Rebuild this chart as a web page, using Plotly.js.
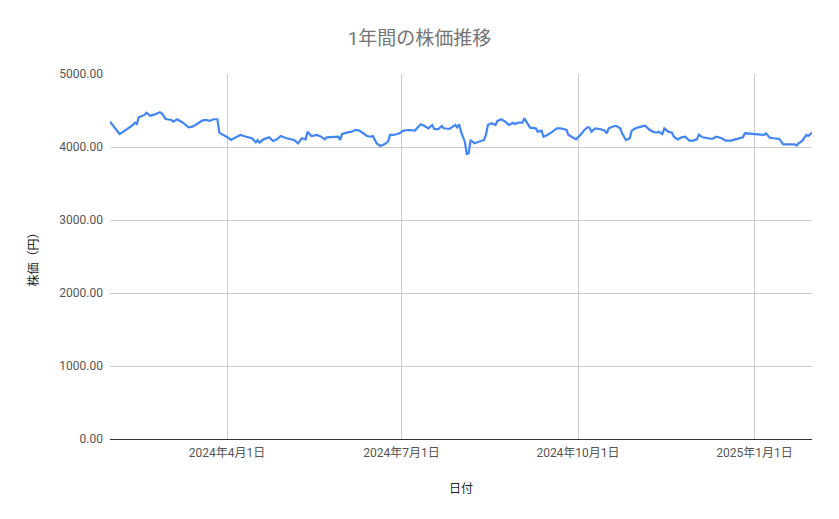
<!DOCTYPE html>
<html lang="ja">
<head>
  <meta charset="UTF-8">
  <title>1年間の株価推移</title>
  <script src="https://cdn.plot.ly/plotly-3.0.1.min.js" charset="utf-8"></script>
  <style>
    body { margin: 0; background: #fff; }
    #chart { width: 839px; height: 519px; }
  </style>
</head>
<body>
  <div id="chart"></div>
  <script>
    // values
    const dates = [
      "2024-01-31","2024-02-02","2024-02-05","2024-02-07","2024-02-12","2024-02-13","2024-02-14","2024-02-15",
      "2024-02-18","2024-02-19","2024-02-21","2024-02-23","2024-02-26","2024-02-27","2024-02-29","2024-03-03",
      "2024-03-04","2024-03-06","2024-03-09","2024-03-12","2024-03-14","2024-03-17","2024-03-19","2024-03-21",
      "2024-03-23","2024-03-25","2024-03-27","2024-03-28","2024-03-31","2024-04-02","2024-04-03","2024-04-08",
      "2024-04-11","2024-04-14","2024-04-16","2024-04-17","2024-04-18","2024-04-20","2024-04-23","2024-04-25",
      "2024-04-27","2024-04-29","2024-05-02","2024-05-06","2024-05-08","2024-05-10","2024-05-12","2024-05-13",
      "2024-05-15","2024-05-18","2024-05-20","2024-05-22","2024-05-23","2024-05-27","2024-05-29","2024-05-30",
      "2024-05-31","2024-06-03","2024-06-05","2024-06-07","2024-06-09","2024-06-11","2024-06-13","2024-06-15",
      "2024-06-16","2024-06-18","2024-06-20","2024-06-22","2024-06-24","2024-06-25","2024-06-27","2024-06-30",
      "2024-07-02","2024-07-05","2024-07-08","2024-07-09","2024-07-11","2024-07-13","2024-07-15","2024-07-17",
      "2024-07-18","2024-07-20","2024-07-22","2024-07-23","2024-07-26","2024-07-29","2024-07-30","2024-07-31",
      "2024-08-01","2024-08-03","2024-08-04","2024-08-05","2024-08-06","2024-08-08","2024-08-11","2024-08-13",
      "2024-08-14","2024-08-15","2024-08-17","2024-08-19","2024-08-20","2024-08-22","2024-08-24","2024-08-26",
      "2024-08-28","2024-08-29","2024-08-31","2024-09-02","2024-09-03","2024-09-05","2024-09-06","2024-09-09",
      "2024-09-10","2024-09-12","2024-09-13","2024-09-15","2024-09-17","2024-09-20","2024-09-22","2024-09-25",
      "2024-09-26","2024-09-29","2024-09-30","2024-10-03","2024-10-04","2024-10-06","2024-10-07","2024-10-08",
      "2024-10-10","2024-10-13","2024-10-15","2024-10-16","2024-10-17","2024-10-20","2024-10-21","2024-10-23",
      "2024-10-24","2024-10-26","2024-10-28","2024-10-29","2024-10-31","2024-11-03","2024-11-05","2024-11-07",
      "2024-11-09","2024-11-11","2024-11-12","2024-11-14","2024-11-15","2024-11-17","2024-11-19","2024-11-20",
      "2024-11-22","2024-11-24","2024-11-26","2024-11-28","2024-11-30","2024-12-02","2024-12-03","2024-12-05",
      "2024-12-08","2024-12-10","2024-12-12","2024-12-15","2024-12-17","2024-12-20","2024-12-22","2024-12-25",
      "2024-12-26","2024-12-27","2024-12-30","2025-01-03","2025-01-06","2025-01-07","2025-01-09","2025-01-11",
      "2025-01-14","2025-01-16","2025-01-19","2025-01-22","2025-01-23","2025-01-24","2025-01-26","2025-01-28",
      "2025-01-29","2025-01-31"
    ];
    const prices = [
      4347,4280,4178,4210,4302,4333,4315,4407,
      4439,4470,4429,4443,4476,4462,4384,4370,
      4347,4380,4333,4270,4279,4325,4361,4370,
      4357,4380,4380,4196,4155,4120,4096,4165,
      4141,4120,4064,4096,4060,4105,4133,4082,
      4105,4151,4120,4096,4050,4120,4105,4210,
      4151,4165,4141,4105,4133,4133,4141,4096,
      4178,4201,4210,4233,4224,4188,4151,4141,
      4151,4050,4014,4037,4073,4165,4165,4188,
      4224,4233,4224,4256,4311,4288,4256,4302,
      4247,4243,4288,4256,4247,4302,4270,4311,
      4210,4073,3905,3914,4096,4050,4073,4096,
      4165,4302,4325,4302,4357,4380,4347,4302,
      4333,4315,4333,4333,4393,4302,4265,4256,
      4210,4224,4141,4165,4196,4256,4256,4233,
      4165,4120,4105,4188,4224,4270,4265,4210,
      4256,4243,4224,4188,4256,4288,4288,4256,
      4188,4096,4120,4224,4256,4279,4293,4243,
      4210,4196,4210,4178,4256,4210,4196,4141,
      4105,4133,4141,4087,4087,4105,4170,4133,
      4120,4110,4141,4120,4087,4087,4105,4120,
      4133,4188,4178,4174,4165,4188,4128,4120,
      4110,4037,4037,4037,4019,4050,4087,4165,
      4151,4196
    ];
    const xTickVals = ["2024-04-01", "2024-07-01", "2024-10-01", "2025-01-01"];
    const xTickText = ["2024年4月1日", "2024年7月1日", "2024年10月1日", "2025年1月1日"];
    const yTickVals = [0, 1000, 2000, 3000, 4000, 5000];

    const fontFamily = "Roboto, 'Noto Sans CJK JP', sans-serif";

    const trace = {
      x: dates,
      y: prices,
      type: 'scatter',
      mode: 'lines',
      line: { color: '#4285f4', width: 2.2 },
      hoverinfo: 'x+y'
    };

    const layout = {
      width: 839,
      height: 519,
      margin: { l: 110, r: 27, t: 74, b: 80 },
      paper_bgcolor: '#fff',
      plot_bgcolor: '#fff',
      font: { family: fontFamily, size: 12, color: '#555' },
      showlegend: false,
      title: {
        text: '1年間の株価推移',
        font: { family: fontFamily, size: 19, color: '#757575' },
        x: 0.5,
        xanchor: 'center',
        y: 0.927,
        yanchor: 'middle'
      },
      xaxis: {
        type: 'date',
        range: ['2024-01-31', '2025-01-31'],
        tickvals: xTickVals,
        ticktext: xTickText,
        showgrid: true,
        gridcolor: '#cccccc',
        showline: true,
        linecolor: '#333',
        linewidth: 1,
        ticks: '',
        zeroline: false,
        ticklabelstandoff: 3,
        tickfont: { size: 12, color: '#555' },
        title: { text: '日付', font: { size: 12, color: '#222' }, standoff: 25 }
      },
      yaxis: {
        range: [0, 5000],
        tickvals: yTickVals,
        tickformat: '.2f',
        showgrid: true,
        gridcolor: '#cccccc',
        zeroline: false,
        ticks: '',
        ticklabelstandoff: 6,
        tickfont: { size: 12, color: '#555' },
        title: { text: '株価（円）', font: { size: 12, color: '#222' }, standoff: 18 }
      }
    };

    Plotly.newPlot('chart', [trace], layout, { displayModeBar: false, staticPlot: true });
  </script>
</body>
</html>
